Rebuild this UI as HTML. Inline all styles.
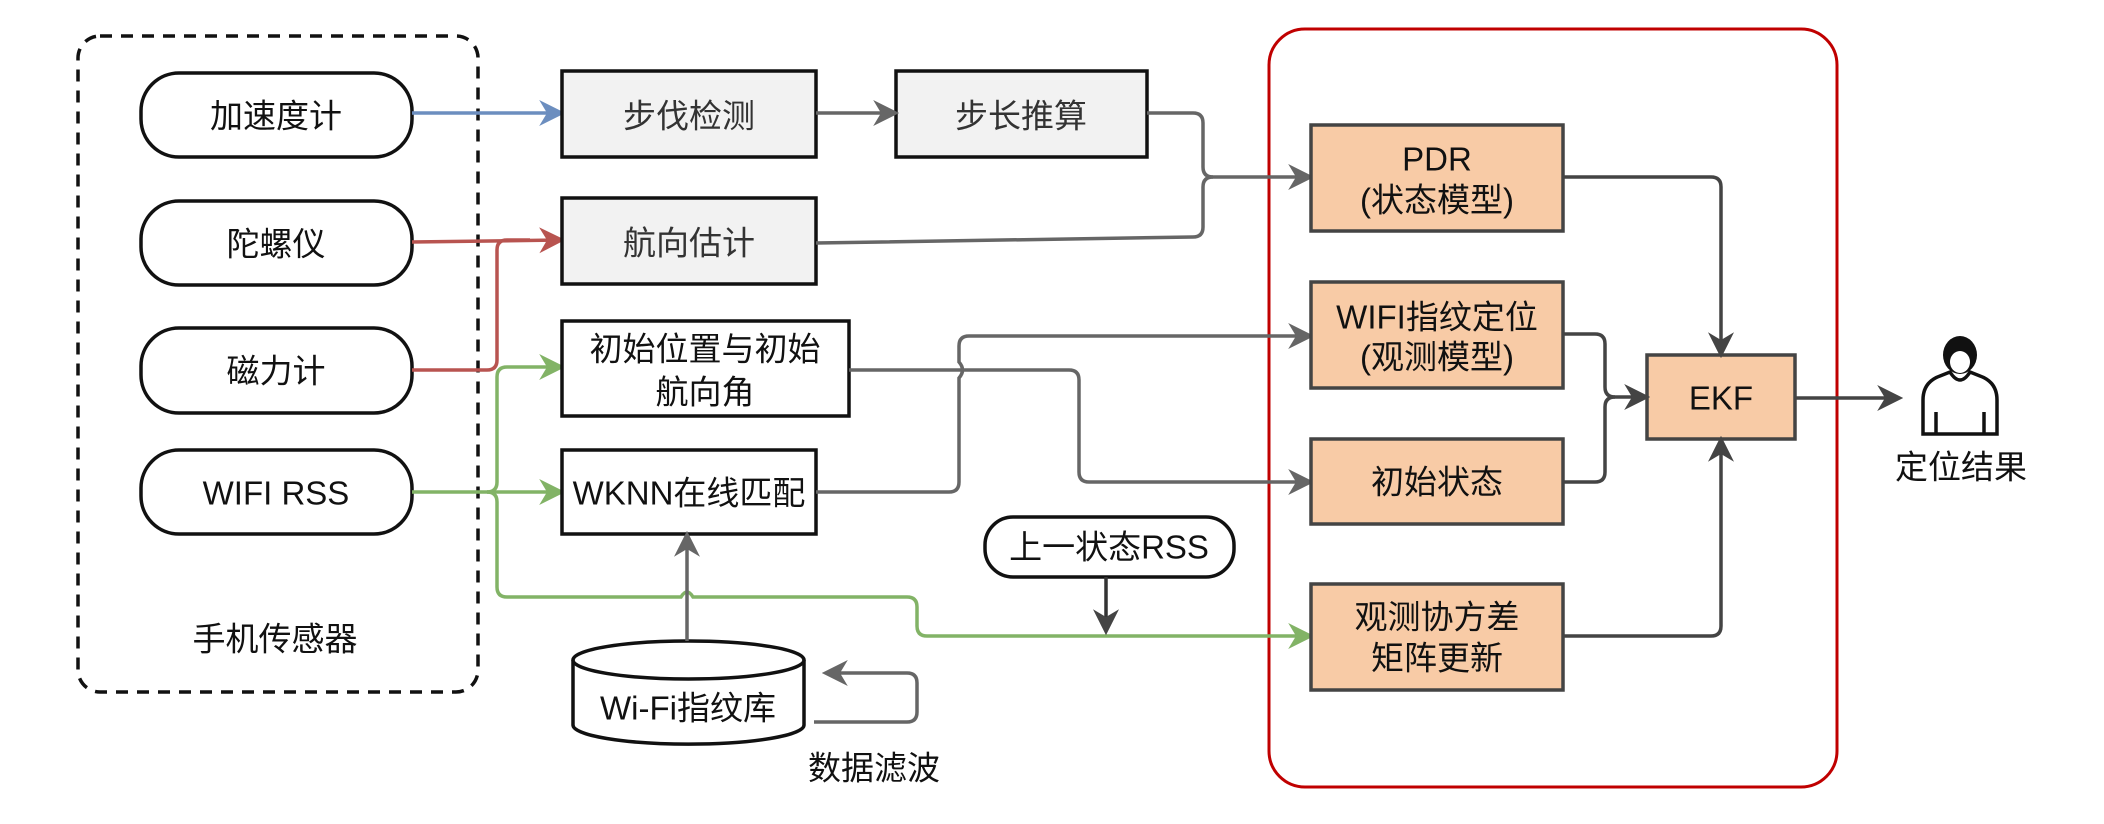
<!DOCTYPE html>
<html><head><meta charset="utf-8"><style>
html,body{margin:0;padding:0;background:#fff;}
svg{display:block}
text{font-family:"Liberation Sans","Noto Sans CJK SC",sans-serif;font-size:33px;fill:#111;text-anchor:middle;dominant-baseline:central}
</style></head><body>
<svg width="2104" height="824" viewBox="0 0 2104 824" xmlns="http://www.w3.org/2000/svg">
<defs>
<marker id="ad" viewBox="0 0 10 10" refX="8" refY="5" markerWidth="26" markerHeight="26" orient="auto" markerUnits="userSpaceOnUse"><path d="M0,0 L10,5 L0,10 L3,5 Z" fill="#444"/></marker>
<marker id="ag2" viewBox="0 0 10 10" refX="8" refY="5" markerWidth="26" markerHeight="26" orient="auto" markerUnits="userSpaceOnUse"><path d="M0,0 L10,5 L0,10 L3,5 Z" fill="#666"/></marker>
<marker id="ab" viewBox="0 0 10 10" refX="8" refY="5" markerWidth="26" markerHeight="26" orient="auto" markerUnits="userSpaceOnUse"><path d="M0,0 L10,5 L0,10 L3,5 Z" fill="#6c8ebf"/></marker>
<marker id="ar" viewBox="0 0 10 10" refX="8" refY="5" markerWidth="26" markerHeight="26" orient="auto" markerUnits="userSpaceOnUse"><path d="M0,0 L10,5 L0,10 L3,5 Z" fill="#b85450"/></marker>
<marker id="agr" viewBox="0 0 10 10" refX="8" refY="5" markerWidth="26" markerHeight="26" orient="auto" markerUnits="userSpaceOnUse"><path d="M0,0 L10,5 L0,10 L3,5 Z" fill="#82b366"/></marker>
</defs>

<rect x="78" y="36" width="400" height="656" rx="22" fill="none" stroke="#111" stroke-width="3.5" stroke-dasharray="12,9"/>
<text x="275" y="639">手机传感器</text>

<rect x="1269" y="29" width="568" height="758" rx="36" fill="none" stroke="#c00000" stroke-width="3"/>

<g fill="#fff" stroke="#111" stroke-width="3.5">
<rect x="141" y="73" width="271" height="84" rx="38"/>
<rect x="141" y="201" width="271" height="84" rx="38"/>
<rect x="141" y="328" width="271" height="85" rx="38"/>
<rect x="141" y="450" width="271" height="84" rx="38"/>
</g>
<text x="276" y="116">加速度计</text>
<text x="276" y="244">陀螺仪</text>
<text x="276" y="371">磁力计</text>
<text x="276" y="493">WIFI RSS</text>

<path d="M412,113 L560,113" stroke="#6c8ebf" stroke-width="3.5" fill="none" marker-end="url(#ab)"/>
<path d="M412,242 L560,240" stroke="#b85450" stroke-width="3.5" fill="none" marker-end="url(#ar)"/>
<path d="M412,370 L487,370 Q497,370 497,360 L497,250 Q497,240 507,240 L530,240" stroke="#b85450" stroke-width="3.5" fill="none"/>
<path d="M412,492 L487,492 Q497,492 497,482 L497,377 Q497,367 507,367 L560,367" stroke="#82b366" stroke-width="3.5" fill="none" marker-end="url(#agr)"/>
<path d="M487,492 L560,492" stroke="#82b366" stroke-width="3.5" fill="none" marker-end="url(#agr)"/>
<path d="M487,492 Q497,492 497,502 L497,587 Q497,597 507,597 L681,597 Q687,587 693,597 L907,597 Q917,597 917,607 L917,626 Q917,636 927,636 L1309,636" stroke="#82b366" stroke-width="3.5" fill="none" marker-end="url(#agr)"/>

<g stroke="#111" stroke-width="3.5">
<rect x="562" y="71" width="254" height="86" fill="#f2f2f2"/>
<rect x="896" y="71" width="251" height="86" fill="#f2f2f2"/>
<rect x="562" y="198" width="254" height="86" fill="#f2f2f2"/>
<rect x="562" y="321" width="287" height="95" fill="#fff"/>
<rect x="562" y="450" width="254" height="84" fill="#fff"/>
</g>
<text x="689" y="116" style="fill:#333">步伐检测</text>
<text x="1021" y="116" style="fill:#333">步长推算</text>
<text x="689" y="243" style="fill:#333">航向估计</text>
<text x="705" y="349">初始位置与初始</text>
<text x="705" y="392">航向角</text>
<text x="689" y="493">WKNN在线匹配</text>

<path d="M816,113 L894,113" stroke="#666" stroke-width="3.5" fill="none" marker-end="url(#ag2)"/>

<path d="M1147,113 L1193,113 Q1203,113 1203,123 L1203,167 Q1203,177 1213,177 L1309,177" stroke="#666" stroke-width="3.5" fill="none" marker-end="url(#ag2)"/>
<path d="M816,243 L1193,237 Q1203,237 1203,227 L1203,187 Q1203,177 1213,177" stroke="#666" stroke-width="3.5" fill="none"/>

<path d="M816,492 L949,492 Q959,492 959,482 L959,378 Q966,370 959,362 L959,346 Q959,336 969,336 L1309,336" stroke="#666" stroke-width="3.5" fill="none" marker-end="url(#ag2)"/>
<path d="M849,370 L1069,370 Q1079,370 1079,380 L1079,472 Q1079,482 1089,482 L1309,482" stroke="#666" stroke-width="3.5" fill="none" marker-end="url(#ag2)"/>

<path d="M573,660 L573,725 A115,19 0 0 0 804,725 L804,660" fill="#fff" stroke="#111" stroke-width="3.5"/>
<ellipse cx="688.5" cy="660" rx="115.5" ry="19" fill="#fff" stroke="#111" stroke-width="3.5"/>
<text x="688" y="708">Wi-Fi指纹库</text>
<path d="M687,641 L687,536" stroke="#666" stroke-width="3.5" fill="none" marker-end="url(#ag2)"/>
<path d="M814,722 L907,722 Q917,722 917,712 L917,683 Q917,673 907,673 L827,673" stroke="#666" stroke-width="3.5" fill="none" marker-end="url(#ag2)"/>
<text x="874" y="768">数据滤波</text>

<rect x="985" y="517" width="249" height="60" rx="28" fill="#fff" stroke="#111" stroke-width="3.5"/>
<text x="1109" y="547">上一状态RSS</text>
<path d="M1106,577 L1106,630" stroke="#333" stroke-width="3.5" fill="none" marker-end="url(#ad)"/>

<g fill="#f8cba6" stroke="#444" stroke-width="3.5">
<rect x="1311" y="125" width="252" height="106"/>
<rect x="1311" y="282" width="252" height="106"/>
<rect x="1311" y="439" width="252" height="85"/>
<rect x="1311" y="584" width="252" height="106"/>
<rect x="1647" y="355" width="148" height="84"/>
</g>
<text x="1437" y="159">PDR</text>
<text x="1437" y="200">(状态模型)</text>
<text x="1437" y="317">WIFI指纹定位</text>
<text x="1437" y="357">(观测模型)</text>
<text x="1437" y="482">初始状态</text>
<text x="1437" y="617">观测协方差</text>
<text x="1437" y="658">矩阵更新</text>
<text x="1721" y="398">EKF</text>

<path d="M1563,177 L1711,177 Q1721,177 1721,187 L1721,353" stroke="#444" stroke-width="3.5" fill="none" marker-end="url(#ad)"/>
<path d="M1563,334 L1595,334 Q1605,334 1605,344 L1605,387 Q1605,397 1615,397 L1645,397" stroke="#444" stroke-width="3.5" fill="none" marker-end="url(#ad)"/>
<path d="M1563,482 L1595,482 Q1605,482 1605,472 L1605,407 Q1605,397 1615,397" stroke="#444" stroke-width="3.5" fill="none"/>
<path d="M1563,636 L1711,636 Q1721,636 1721,626 L1721,441" stroke="#444" stroke-width="3.5" fill="none" marker-end="url(#ad)"/>
<path d="M1795,398 L1898,398" stroke="#444" stroke-width="3.5" fill="none" marker-end="url(#ad)"/>

<g stroke="#111" stroke-width="3.5" fill="none">
<path d="M1923,434 L1923,400 Q1923,382 1940,376 L1950,372 Q1960,388 1970,372 L1980,376 Q1997,382 1997,400 L1997,434 Z" fill="#fff"/>
<line x1="1936" y1="412" x2="1936" y2="434"/>
<line x1="1984" y1="412" x2="1984" y2="434"/>
</g>
<ellipse cx="1960" cy="355" rx="17" ry="19" fill="#111"/>
<ellipse cx="1960" cy="362" rx="10" ry="11" fill="#fff"/>
<text x="1961" y="467">定位结果</text>
</svg>
</body></html>
